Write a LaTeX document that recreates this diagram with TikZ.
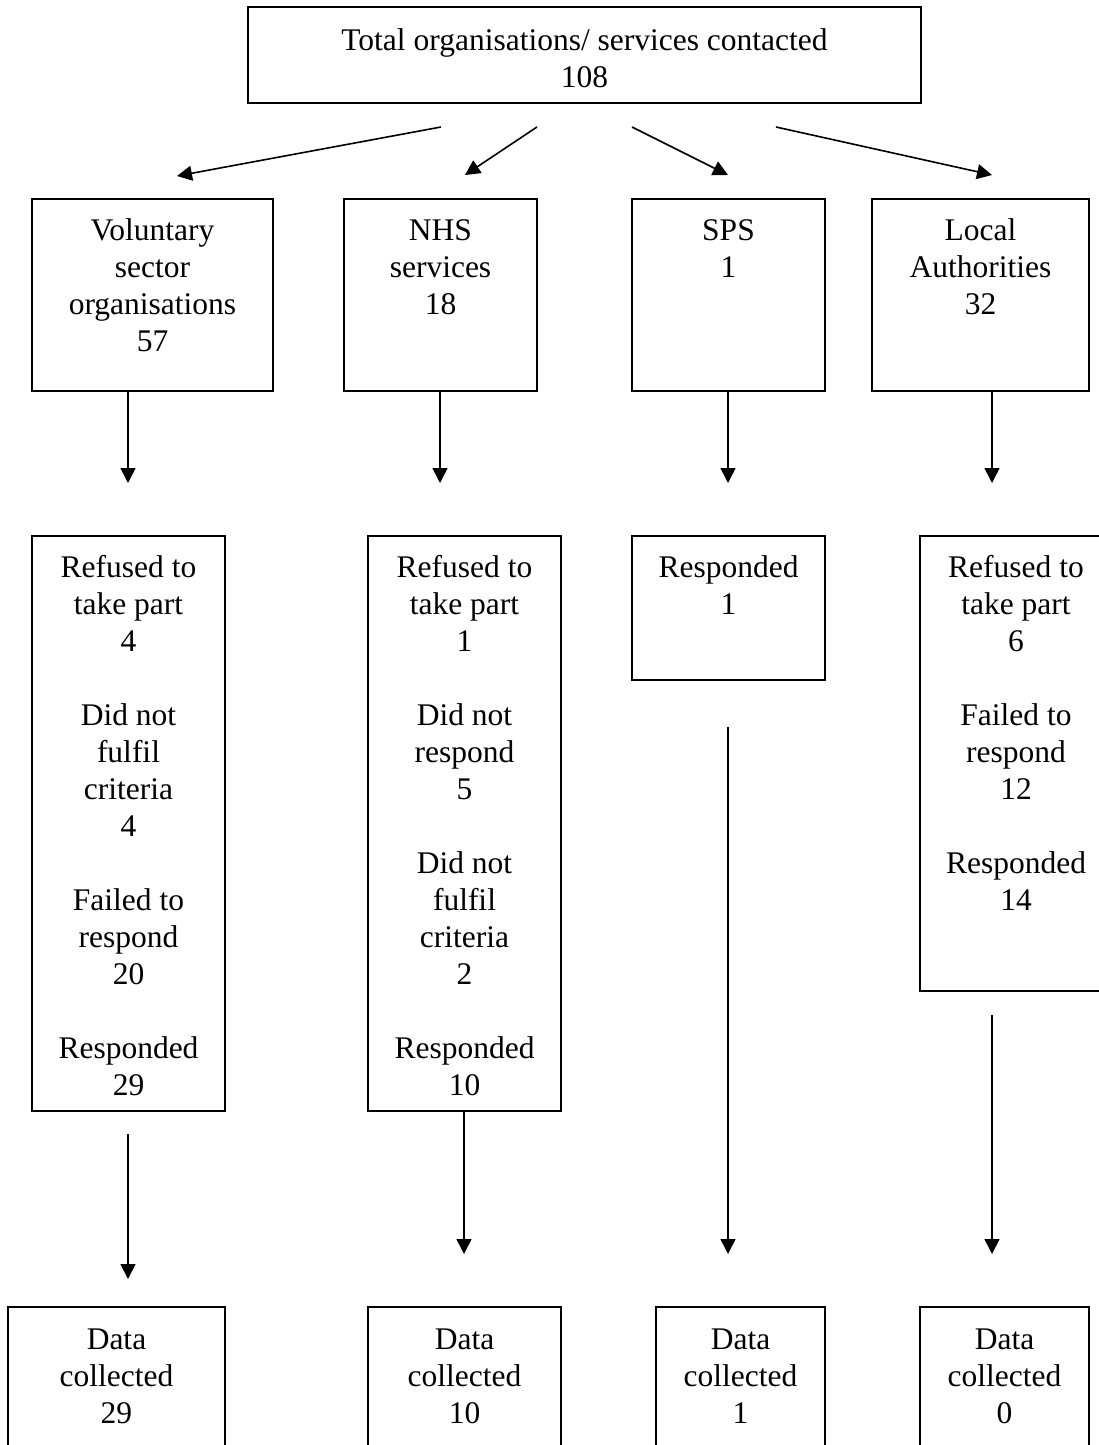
\documentclass[tikz,border=0pt]{standalone}
\usepackage{fontspec}
\setmainfont{Liberation Serif}
\usetikzlibrary{arrows.meta}
\newcommand\boxtext[4]{\parbox[t][#2pt][t]{#1pt}{\centering\rule{0pt}{#3pt}#4}}
\tikzset{
  flowbox/.style={draw, line width=1.6pt, rectangle, inner sep=0pt, outer sep=0pt, anchor=north west,
    font=\fontsize{31.5}{37}\selectfont},
  arr/.style={-{Triangle[length=15pt,width=15pt]}, line width=1.6pt},
}
\begin{document}
\begin{tikzpicture}[x=1pt,y=-1pt]
\clip (0,0) rectangle (1099,1445);
\fill[white] (0,0) rectangle (1099,1445);

% top
\node[flowbox] (top) at (248,7) {\boxtext{673}{96}{44}{Total organisations/ services contacted\\108}};

% row 1
\node[flowbox] (vol1) at (32,199) {\boxtext{241}{192}{41.5}{Voluntary\\sector\\organisations\\57}};
\node[flowbox] (nhs1) at (344,199) {\boxtext{193}{192}{41.5}{NHS\\services\\18}};
\node[flowbox] (sps1) at (632,199) {\boxtext{193}{192}{41.5}{SPS\\1}};
\node[flowbox] (la1) at (872,199) {\boxtext{217}{192}{41.5}{Local\\Authorities\\32}};

% row 2
\node[flowbox] (vol2) at (32,536) {\boxtext{193}{575}{41}{Refused to\\take part\\4\\[37pt]Did not\\fulfil\\criteria\\4\\[37pt]Failed to\\respond\\20\\[37pt]Responded\\29}};
\node[flowbox] (nhs2) at (368,536) {\boxtext{193}{575}{41}{Refused to\\take part\\1\\[37pt]Did not\\respond\\5\\[37pt]Did not\\fulfil\\criteria\\2\\[37pt]Responded\\10}};
\node[flowbox] (sps2) at (632,536) {\boxtext{193}{144}{41}{Responded\\1}};
\node[flowbox] (la2) at (920,536) {\boxtext{192}{455}{41}{Refused to\\take part\\6\\[37pt]Failed to\\respond\\12\\[37pt]Responded\\14}};

% row 3
\node[flowbox] (vol3) at (8,1307) {\boxtext{217}{170}{42}{Data\\collected\\29}};
\node[flowbox] (nhs3) at (368,1307) {\boxtext{193}{170}{42}{Data\\collected\\10}};
\node[flowbox] (sps3) at (656,1307) {\boxtext{169}{170}{42}{Data\\collected\\1}};
\node[flowbox] (la3) at (920,1307) {\boxtext{169}{170}{42}{Data\\collected\\0}};

% arrow end points
\coordinate (t1s) at (441,127); \coordinate (t1e) at (177,176);
\coordinate (t2s) at (537,127); \coordinate (t2e) at (465,175);
\coordinate (t3s) at (632,127); \coordinate (t3e) at (728,175);
\coordinate (t4s) at (776,127); \coordinate (t4e) at (992,175);

\coordinate (v1e) at (128,483); \coordinate (n1e) at (440,483);
\coordinate (s1e) at (728,483); \coordinate (l1e) at (992,483);

\coordinate (v2s) at (128,1134); \coordinate (v2e) at (128,1279);
\coordinate (n2e) at (464,1254);
\coordinate (s2s) at (728,727); \coordinate (s2e) at (728,1254);
\coordinate (l2s) at (992,1015); \coordinate (l2e) at (992,1254);

% arrows from top
\draw[arr] (t1s) -- (t1e);
\draw[arr] (t2s) -- (t2e);
\draw[arr] (t3s) -- (t3e);
\draw[arr] (t4s) -- (t4e);

% row 1 -> row 2
\draw[arr] (vol1.south -| v1e) -- (v1e);
\draw[arr] (nhs1.south -| n1e) -- (n1e);
\draw[arr] (sps1.south -| s1e) -- (s1e);
\draw[arr] (la1.south -| l1e) -- (l1e);

% row 2 -> row 3
\draw[arr] (v2s) -- (v2e);
\draw[arr] (nhs2.south -| n2e) -- (n2e);
\draw[arr] (s2s) -- (s2e);
\draw[arr] (l2s) -- (l2e);
\end{tikzpicture}
\end{document}
